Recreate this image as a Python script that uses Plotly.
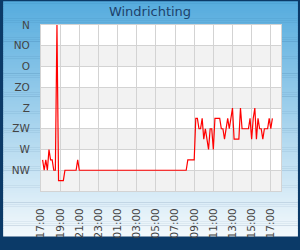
import plotly.graph_objects as go

# ---------------- data ----------------
chart_title = "Windrichting"

dir_degrees = [0, 45, 90, 135, 180, 225, 270, 315]
dir_labels = ["N", "NO", "O", "ZO", "Z", "ZW", "W", "NW"]

tick_times = [
    "2024-05-01 17:00", "2024-05-01 19:00", "2024-05-01 21:00", "2024-05-01 23:00",
    "2024-05-02 01:00", "2024-05-02 03:00", "2024-05-02 05:00", "2024-05-02 07:00",
    "2024-05-02 09:00", "2024-05-02 11:00", "2024-05-02 13:00", "2024-05-02 15:00",
    "2024-05-02 17:00",
]
tick_labels = ["17:00", "19:00", "21:00", "23:00", "01:00", "03:00", "05:00",
               "07:00", "09:00", "11:00", "13:00", "15:00", "17:00"]

x_range = ["2024-05-01 17:00", "2024-05-02 18:04"]

times = [
    "2024-05-01 17:10", "2024-05-01 17:20", "2024-05-01 17:30", "2024-05-01 17:40",
    "2024-05-01 17:50", "2024-05-01 18:00", "2024-05-01 18:10", "2024-05-01 18:20",
    "2024-05-01 18:30", "2024-05-01 18:40", "2024-05-01 18:50", "2024-05-01 19:00",
    "2024-05-01 19:10", "2024-05-01 19:20", "2024-05-01 19:30", "2024-05-01 20:40",
    "2024-05-01 20:50", "2024-05-01 21:00",
    "2024-05-02 08:10", "2024-05-02 08:20", "2024-05-02 09:00",
    "2024-05-02 09:10", "2024-05-02 09:20", "2024-05-02 09:30", "2024-05-02 09:40",
    "2024-05-02 09:50", "2024-05-02 10:00", "2024-05-02 10:10", "2024-05-02 10:20",
    "2024-05-02 10:30", "2024-05-02 10:40", "2024-05-02 10:50", "2024-05-02 11:00",
    "2024-05-02 11:10", "2024-05-02 11:20", "2024-05-02 11:30", "2024-05-02 11:40",
    "2024-05-02 11:50", "2024-05-02 12:00", "2024-05-02 12:10", "2024-05-02 12:20",
    "2024-05-02 12:30", "2024-05-02 12:40", "2024-05-02 12:50", "2024-05-02 13:00",
    "2024-05-02 13:10", "2024-05-02 13:20", "2024-05-02 13:30", "2024-05-02 13:40",
    "2024-05-02 13:50", "2024-05-02 14:00", "2024-05-02 14:10", "2024-05-02 14:20",
    "2024-05-02 14:30", "2024-05-02 14:40", "2024-05-02 14:50", "2024-05-02 15:00",
    "2024-05-02 15:10", "2024-05-02 15:20", "2024-05-02 15:30", "2024-05-02 15:40",
    "2024-05-02 15:50", "2024-05-02 16:00", "2024-05-02 16:10", "2024-05-02 16:20",
    "2024-05-02 16:30", "2024-05-02 16:40", "2024-05-02 16:50", "2024-05-02 17:00",
    "2024-05-02 17:10",
]
directions = [
    292.5, 315, 292.5, 315,
    270, 292.5, 292.5, 315,
    315, 0, 337.5, 337.5,
    337.5, 337.5, 315, 315,
    292.5, 315,
    315, 292.5, 292.5,
    202.5, 202.5, 225, 225,
    202.5, 247.5, 225, 247.5,
    270, 225, 225, 270,
    202.5, 202.5, 202.5, 202.5,
    225, 225, 247.5, 225,
    202.5, 225, 202.5, 180,
    247.5, 247.5, 247.5, 247.5,
    180, 225, 225, 225,
    225, 225, 202.5, 247.5,
    202.5, 180, 247.5, 202.5,
    225, 225, 247.5, 225,
    225, 225, 202.5, 225,
    202.5,
]

# ---------------- styling ----------------
W, H = 300, 250
ML, MR, MT, MB = 40, 19, 25, 50
PW, PH = W - ML - MR, H - MT - MB
FONT = "DejaVu Sans"
BORDER = "#0b3a68"
GRID = "#d3d3d3"
BAND = "#f2f2f2"
TOP_RGB = (86, 172, 222)
BOT_RGB = (244, 249, 252)
BW = 2  # border width in px


def px_x(px):
    return (px - ML) / PW


def px_y(py):
    return (H - MB - py) / PH


shapes = []
# gradient background (inside the dark border)
step = 2
for py in range(0, H - BW, step):
    t = py / (H - BW)
    col = tuple(round(a + (b - a) * t) for a, b in zip(TOP_RGB, BOT_RGB))
    shapes.append(dict(
        type="rect", xref="paper", yref="paper", layer="below",
        x0=px_x(BW), x1=px_x(W - BW), y0=px_y(min(py + step + 0.5, H - BW)), y1=px_y(py),
        fillcolor="rgb(%d,%d,%d)" % col, line=dict(width=0),
    ))
# white plot area
shapes.append(dict(type="rect", xref="paper", yref="paper", layer="below",
                   x0=0, x1=1, y0=0, y1=1, fillcolor="white", line=dict(width=0)))
# alternating bands
for lo in dir_degrees[1::2]:
    shapes.append(dict(type="rect", xref="paper", yref="y", layer="below",
                       x0=0, x1=1, y0=lo, y1=lo + 45, fillcolor=BAND, line=dict(width=0)))

fig = go.Figure()
fig.add_trace(go.Scatter(
    x=times, y=directions, mode="lines",
    line=dict(color="#ff0000", width=1.2),
    hoverinfo="skip", showlegend=False,
))

fig.update_layout(
    width=W, height=H, autosize=False,
    margin=dict(l=ML, r=MR, t=MT, b=MB, pad=0),
    paper_bgcolor=BORDER,
    plot_bgcolor="rgba(0,0,0,0)",
    font=dict(family=FONT, size=10.5, color="#444444"),
    title=dict(text=chart_title, x=0.5, xref="container", xanchor="center",
               y=1 - 11 / H, yref="container", yanchor="middle",
               font=dict(family=FONT, size=13, color="#1d426b")),
    shapes=shapes,
    xaxis=dict(
        type="date", range=x_range,
        tickmode="array", tickvals=tick_times, ticktext=tick_labels,
        tickangle=-90, ticks="outside", ticklen=12, tickcolor="rgba(0,0,0,0)",
        showgrid=True, gridcolor=GRID, gridwidth=1,
        showline=True, mirror=True, linecolor=GRID, linewidth=1,
        zeroline=False, fixedrange=True,
        tickfont=dict(family=FONT, size=10.5, color="#444444"),
    ),
    yaxis=dict(
        range=[360, 0],
        tickmode="array", tickvals=dir_degrees, ticktext=dir_labels,
        ticks="outside", ticklen=8, tickcolor="rgba(0,0,0,0)",
        showgrid=True, gridcolor=GRID, gridwidth=1,
        showline=True, mirror=True, linecolor=GRID, linewidth=1,
        zeroline=False, fixedrange=True,
        tickfont=dict(family=FONT, size=10.5, color="#444444"),
    ),
)

fig.write_html("out.html", config={"displayModeBar": False, "staticPlot": True})
